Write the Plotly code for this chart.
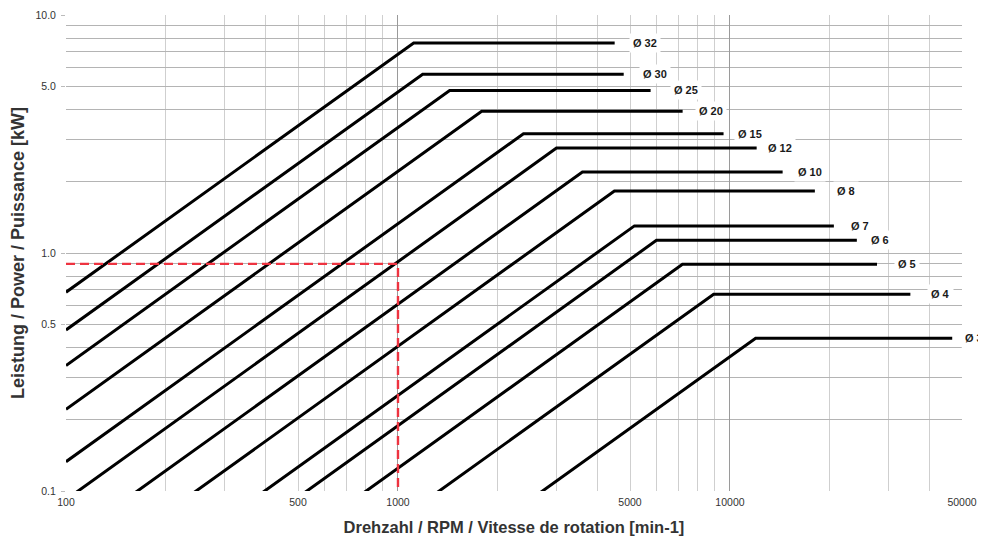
import numpy as np
import plotly.graph_objects as go

# Data
diameters = ["Ø 32", "Ø 30", "Ø 25", "Ø 20", "Ø 15", "Ø 12", "Ø 10", "Ø 8", "Ø 7", "Ø 6", "Ø 5", "Ø 4", "Ø 3"]
max_power_kw = [7.63, 5.64, 4.82, 3.94, 3.17, 2.76, 2.19, 1.82, 1.30, 1.13, 0.897, 0.671, 0.4385]
knee_rpm = [1115, 1187, 1431, 1787, 2388, 3002, 3594, 4487, 5155, 6006, 7194, 8931, 11950]
max_rpm = [4495, 4786, 5768, 7202, 9566, 12035, 14410, 18020, 20560, 24110, 27730, 34950, 46720]
start_rpm = 100

example_rpm = [100, 1000, 1000]
example_power = [0.9, 0.9, 0.1]

x_ticks = [100, 500, 1000, 5000, 10000, 50000]
x_ticktext = ["100", "500", "1000", "5000", "10000", "50000"]
y_ticks = [0.1, 0.5, 1.0, 5.0, 10.0]
y_ticktext = ["0.1", "0.5", "1.0", "5.0", "10.0"]

x_minor = [k * 10 ** e for e in (2, 3, 4) for k in range(1, 10) if k * 10 ** e <= 50000]
x_decades = [100, 1000, 10000]
y_minor = [k * 10 ** e for e in (-1, 0) for k in range(1, 10)] + [10]

# label pixel offsets (style)
label_xshift = [14, 15, 19, 12, 10, 7, 11, 18, 13, 10, 17, 17, 9]

FONT = "Liberation Sans, Arial, sans-serif"
TXT = "#333333"

fig = go.Figure()

for name, pmax, nk, nmax, xs in zip(diameters, max_power_kw, knee_rpm, max_rpm, label_xshift):
    p_start = pmax * start_rpm / nk
    fig.add_trace(go.Scatter(
        x=[start_rpm, nk, nmax], y=[p_start, pmax, pmax],
        mode="lines", line=dict(color="#000000", width=3),
        name=name, showlegend=False, hoverinfo="skip",
    ))
    fig.add_annotation(
        x=np.log10(nmax), y=np.log10(pmax), xref="x", yref="y",
        text="<b>%s</b>" % name, showarrow=False, xanchor="left", yanchor="middle",
        xshift=xs, bgcolor="#ffffff", borderpad=3,
        font=dict(family=FONT, size=11, color="#1a1a1a"),
    )

fig.add_trace(go.Scatter(
    x=example_rpm, y=example_power, mode="lines",
    line=dict(color="#ee3340", width=2.4, dash="9px,5px"),
    showlegend=False, hoverinfo="skip",
))

# invisible trace to carry the overlay axis with darker decade grid
fig.add_trace(go.Scatter(x=[100], y=[1], xaxis="x2", mode="markers",
                         marker=dict(opacity=0), showlegend=False, hoverinfo="skip"))

xr = [2, np.log10(50000)]
fig.update_layout(
    template="none",
    width=978, height=529,
    margin=dict(l=58, r=24, t=7, b=46, pad=0),
    paper_bgcolor="#ffffff", plot_bgcolor="#ffffff",
    font=dict(family=FONT, size=11, color=TXT),
    xaxis=dict(
        type="log", range=xr, automargin=False,
        tickvals=x_ticks, ticktext=x_ticktext, showgrid=False,
        ticks="", ticklabelstandoff=3, zeroline=False, showline=False,
        tickfont=dict(family=FONT, size=10.5, color=TXT),
        minor=dict(tickvals=x_minor, showgrid=True, gridcolor="#cfcfcf", gridwidth=1, ticks=""),
        title=dict(text="<b>Drehzahl / RPM / Vitesse de rotation [min-1]</b>",
                   font=dict(family=FONT, size=16.5, color=TXT), standoff=14),
    ),
    xaxis2=dict(
        type="log", range=xr, overlaying="x", tickvals=x_decades, automargin=False,
        showticklabels=False, showgrid=True, gridcolor="#9a9a9a", gridwidth=1,
        ticks="", zeroline=False, showline=False,
    ),
    yaxis=dict(
        type="log", range=[-1, 1], automargin=False,
        tickvals=y_ticks, ticktext=y_ticktext,
        showgrid=True, gridcolor="#b4b4b4", gridwidth=1,
        ticks="outside", ticklen=4, tickcolor="#bbbbbb", ticklabelstandoff=3,
        zeroline=False, showline=False,
        tickfont=dict(family=FONT, size=10.5, color=TXT),
        minor=dict(tickvals=y_minor, showgrid=True, gridcolor="#b4b4b4", gridwidth=1, ticks=""),
        title=dict(text="<b>Leistung / Power / Puissance [kW]</b>",
                   font=dict(family=FONT, size=18, color=TXT), standoff=17),
    ),
)

fig.write_html("out.html")
